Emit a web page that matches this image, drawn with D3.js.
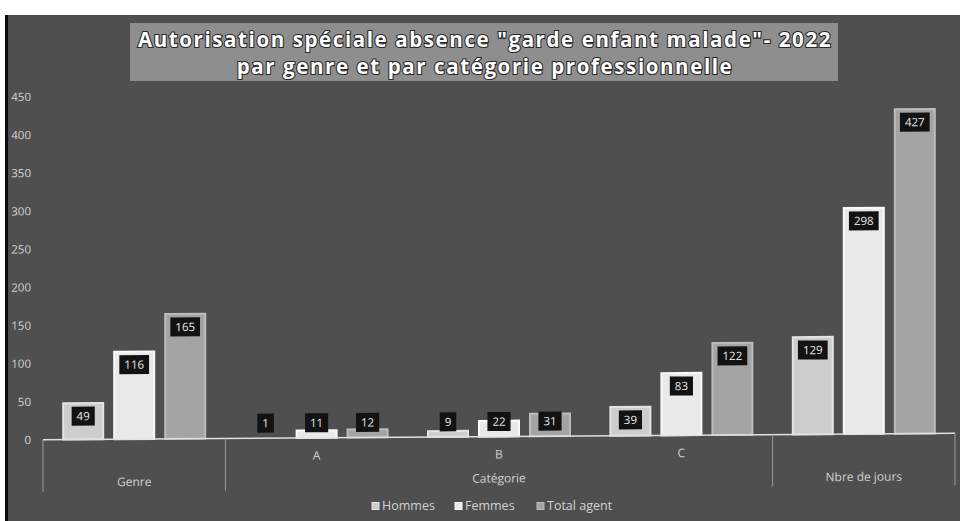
<!DOCTYPE html>
<html>
<head>
<meta charset="utf-8">
<script src="https://cdn.jsdelivr.net/npm/d3@7/dist/d3.min.js"></script>
<style>
  html, body { margin: 0; padding: 0; background: #ffffff; }
  svg { display: block; }
  text { font-family: "Open Sans", "Noto Sans", sans-serif; }
</style>
</head>
<body>
<svg id="chart" width="960" height="521"></svg>
<script>
// Chart data
const groups = ["Genre", "A", "B", "C", "Nbre de jours"];
const groupParent = ["Genre", "Catégorie", "Catégorie", "Catégorie", "Nbre de jours"];
const series = ["Hommes", "Femmes", "Total agent"];
const hommes = [49, 1, 9, 39, 129];
const femmes = [116, 11, 22, 83, 298];
const totalAgent = [165, 12, 31, 122, 427];
const yTicks = [0, 50, 100, 150, 200, 250, 300, 350, 400, 450];
const titleLines = ["Autorisation spéciale absence \"garde enfant malade\"- 2022",
                    "par genre et par catégorie professionnelle"];

const seriesValues = [hommes, femmes, totalAgent];
const fills   = ["#cdcdcd", "#e9e9e9", "#a4a4a4"];
const strokes = ["#e4e4e4", "#fafafa", "#bcbcbc"];

const svg = d3.select("#chart");

// Frame and background
svg.append("rect").attr("x", 6).attr("y", 15).attr("width", 954).attr("height", 506)
  .attr("fill", "#4f4f4f");
svg.append("rect").attr("x", 5).attr("y", 15).attr("width", 3).attr("height", 506)
  .attr("fill", "#0d0d0d");

// Whole plot is slightly tilted, right side higher
const g = svg.append("g").attr("transform", "skewY(-0.4)");

const x0 = d3.scaleBand().domain(groups).range([43, 955]);
const innerW = 144;
const x1 = d3.scaleBand().domain(series)
  .range([(x0.bandwidth() - innerW) / 2, (x0.bandwidth() + innerW) / 2])
  .paddingInner(9 / 51);
const y = d3.scaleLinear().domain([0, 450]).range([440, 97]);

// Value axis labels
const yAxis = d3.axisLeft(y).tickValues(yTicks).tickSize(0).tickPadding(0);
const ya = g.append("g").attr("transform", "translate(31,0)").call(yAxis);
ya.select(".domain").remove();
ya.selectAll("text").attr("fill", "#d4d4d4").attr("font-size", 11.5)
  .attr("font-family", "Open Sans, sans-serif");

// Bars
const rows = groups.map((grp, i) => ({ grp, vals: series.map((s, k) => ({ s, k, v: seriesValues[k][i] })) }));
const gg = g.selectAll(".grp").data(rows).join("g")
  .attr("class", "grp")
  .attr("transform", d => `translate(${x0(d.grp)},0)`);

gg.selectAll("rect.bar").data(d => d.vals).join("rect")
  .attr("class", "bar")
  .attr("x", d => x1(d.s) + 1)
  .attr("width", x1.bandwidth() - 2)
  .attr("y", d => y(d.v) + 1)
  .attr("height", d => Math.max(0, y(0) - y(d.v) - 1))
  .attr("fill", d => fills[d.k])
  .attr("stroke", d => strokes[d.k])
  .attr("stroke-width", 2);

// Value labels in dark boxes
const lab = gg.selectAll("g.lab").data(d => d.vals).join("g")
  .attr("class", "lab")
  .attr("transform", d => `translate(${x1(d.s) + x1.bandwidth() / 2},${Math.min(y(d.v) + 14, y(0) - 15)})`);
lab.append("rect").attr("fill", "#121212");
lab.append("text").text(d => d.v)
  .attr("text-anchor", "middle").attr("dy", "0.36em")
  .attr("fill", "#e8e8e8").attr("font-size", 11.5);
lab.each(function () {
  const t = d3.select(this).select("text").node();
  const w = t.getComputedTextLength() + 10;
  d3.select(this).select("rect").attr("x", -w / 2).attr("y", -9.5).attr("width", w).attr("height", 19);
});

// Category axis (two levels)
const axisCol = "#d2d2d2";
g.append("line").attr("x1", 43).attr("x2", 955).attr("y1", y(0)).attr("y2", y(0))
  .attr("stroke", "#e0e0e0").attr("stroke-width", 1.5);

const parents = [];
groupParent.forEach((p, i) => {
  const last = parents[parents.length - 1];
  if (last && last.name === p) last.end = groups[i];
  else parents.push({ name: p, start: groups[i], end: groups[i] });
});
const bounds = [43];
parents.forEach(p => bounds.push(x0(p.end) + x0.bandwidth()));
g.selectAll("line.sep").data(bounds).join("line").attr("class", "sep")
  .attr("x1", d => d).attr("x2", d => d)
  .attr("y1", y(0)).attr("y2", 492)
  .attr("stroke", "#9a9a9a").attr("stroke-width", 1);

// First level labels (only inside multi-member parents)
g.selectAll("text.lvl1").data(groups.filter((d, i) => groupParent[i] !== d)).join("text")
  .attr("class", "lvl1")
  .attr("x", d => x0(d) + x0.bandwidth() / 2).attr("y", 462)
  .attr("text-anchor", "middle").attr("fill", axisCol).attr("font-size", 12)
  .text(d => d);

// Second level labels
g.selectAll("text.lvl2").data(parents).join("text")
  .attr("class", "lvl2")
  .attr("x", d => (x0(d.start) + x0(d.end) + x0.bandwidth()) / 2)
  .attr("y", d => d.name === d.start ? 487 : 486)
  .attr("text-anchor", "middle").attr("fill", axisCol).attr("font-size", 12)
  .text(d => d.name);

// Legend
const legX = [372, 455, 537];
const leg = svg.selectAll("g.leg").data(series).join("g").attr("class", "leg")
  .attr("transform", (d, i) => `translate(${legX[i]},506)`);
leg.append("rect").attr("x", 0).attr("y", -3.5).attr("width", 7).attr("height", 7)
  .attr("fill", (d, i) => fills[i]).attr("stroke", (d, i) => strokes[i]).attr("stroke-width", 1);
leg.append("text").attr("x", 10).attr("dy", "0.35em")
  .attr("fill", axisCol).attr("font-size", 12.5).text(d => d);

// Title box
const tg = svg.append("g");
tg.append("rect").attr("x", 130).attr("y", 23).attr("width", 708).attr("height", 58)
  .attr("fill", "#8e8e8e");
tg.selectAll("text").data(titleLines).join("text")
  .attr("x", 485).attr("y", (d, i) => 47 + i * 27)
  .attr("text-anchor", "middle")
  .attr("font-family", "Open Sans, sans-serif").attr("font-weight", "bold")
  .attr("font-size", 20.5).attr("letter-spacing", 1.6)
  .attr("fill", "#ffffff").attr("stroke", "#2a2a2a").attr("stroke-width", 2.2)
  .attr("paint-order", "stroke")
  .text(d => d);
</script>
</body>
</html>
